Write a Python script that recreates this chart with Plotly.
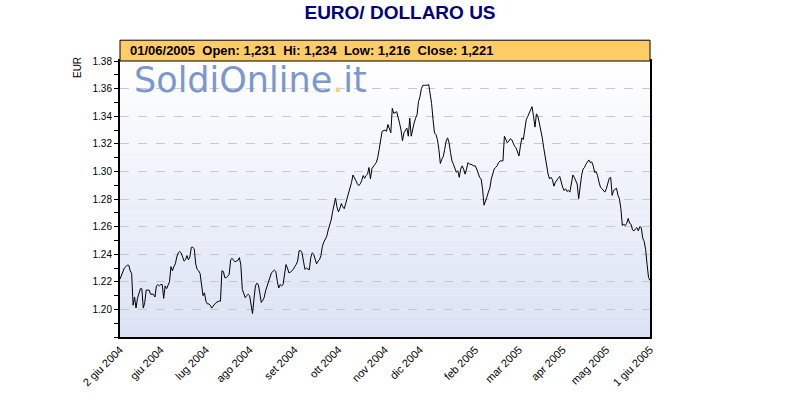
import pandas as pd
import plotly.graph_objects as go

# ---- data ----
start_date = "2004-06-02"
day_offset = [
    0, 3, 5, 6, 7, 8, 9, 10, 11, 12, 14, 15, 16, 17, 18, 19, 20, 21, 23, 24,
    25, 26, 27, 28, 29, 30, 31, 32, 33, 34, 35, 36, 37, 38, 39, 40, 41, 42, 43, 44,
    45, 46, 47, 48, 49, 50, 51, 52, 53, 54, 55, 56, 57, 58, 59, 60, 61,
    62, 63, 64, 65, 66, 68, 69, 70, 71, 72, 73, 74, 75, 76, 77, 78, 79, 80, 81, 82,
    83, 84, 85, 86, 87, 88, 89, 90, 91, 92, 93, 94, 95, 96, 97, 98, 99, 100, 101,
    102, 103, 104, 106, 107, 108, 109, 110, 111, 112, 113, 114, 115, 116, 117, 119,
    120, 121, 122, 123,
    124, 125, 126, 127, 128, 129, 130, 131, 132, 133, 134, 135, 136, 137, 138, 139,
    140, 141, 142, 143, 144, 145, 146, 147, 148, 149, 150, 151, 152, 153, 154, 155,
    157, 158, 159, 160, 161, 162, 163, 164, 165, 166, 167, 168, 169, 170, 171, 172,
    173, 174, 175, 176, 177, 178, 179,
    180, 182, 183, 184, 186, 187, 188, 190, 191, 192, 193, 194, 195, 196, 197, 198,
    199, 200, 201, 202, 203, 204, 205, 206, 207, 208, 209, 211, 212, 213, 214, 215,
    216, 217, 218, 219, 220, 221, 222, 223, 224, 225, 226, 227, 228, 229, 230, 231,
    232, 233, 234, 235, 236, 237, 238, 239, 240, 241, 243, 244, 245, 247,
    248, 249, 250, 251, 252, 253, 254, 255, 256, 257, 258, 259, 260, 261, 262, 263,
    264, 265, 266, 267, 268, 269, 270, 271, 272, 273, 274, 275, 276, 277, 278, 279,
    280, 281, 282, 283, 284, 285, 286, 287, 288, 289, 290, 291, 292, 293, 294, 295,
    296, 297, 298, 299, 300, 301, 302, 303, 304, 305, 306, 307,
    308, 309, 310, 311, 312, 313, 314, 315, 316, 317, 318, 319, 320, 321, 322, 323,
    324, 325, 326, 327, 328, 329, 330, 331, 332, 333, 334, 335, 336, 337, 338, 339,
    340, 341, 342, 343, 344, 345, 346, 347, 348, 349, 350, 351, 352, 353, 354, 355,
    356, 357, 358, 359, 360, 361, 362, 363, 364,
]
close = [
    1.222, 1.230, 1.232, 1.232, 1.228, 1.226, 1.203, 1.209, 1.201, 1.208, 1.215, 1.215, 1.201, 1.205, 1.214, 1.214, 1.214, 1.211, 1.211, 1.209,
    1.217, 1.218, 1.217, 1.218, 1.218, 1.208, 1.217, 1.215, 1.218, 1.220, 1.231, 1.228, 1.231, 1.233, 1.238, 1.241, 1.242, 1.241, 1.238, 1.235,
    1.236, 1.239, 1.236, 1.238, 1.245, 1.245, 1.244, 1.233, 1.229, 1.228, 1.226, 1.216, 1.210, 1.212, 1.206, 1.204, 1.204,
    1.203, 1.201, 1.2025, 1.204, 1.205, 1.206, 1.206, 1.228, 1.2275, 1.223, 1.223, 1.224, 1.2255, 1.236, 1.237, 1.2355, 1.2345, 1.235, 1.2355, 1.2375,
    1.232, 1.2145, 1.211, 1.2085, 1.210, 1.211, 1.210, 1.2015, 1.197, 1.2075, 1.217, 1.219, 1.218, 1.212, 1.205, 1.2065, 1.2085, 1.2135, 1.217,
    1.2195, 1.223, 1.2265, 1.2285, 1.2275, 1.2205, 1.2155, 1.218, 1.217, 1.218, 1.2265, 1.2325, 1.230, 1.2265, 1.227, 1.229,
    1.231, 1.2325, 1.235, 1.2425,
    1.2426, 1.241, 1.235, 1.229, 1.230, 1.229, 1.2286, 1.2374, 1.241, 1.240, 1.2355, 1.233, 1.235, 1.236, 1.239, 1.2457,
    1.2488, 1.2505, 1.253, 1.2576, 1.261, 1.2647, 1.2707, 1.2755, 1.2807, 1.2743, 1.2707, 1.273, 1.2767, 1.2743, 1.273, 1.2767,
    1.2838, 1.2874, 1.292, 1.2974, 1.2957, 1.2933, 1.291, 1.2897, 1.291, 1.2933, 1.297, 1.295, 1.297, 1.298, 1.3028, 1.2945,
    1.302, 1.304, 1.305, 1.3064, 1.310, 1.316, 1.324,
    1.329, 1.330, 1.329, 1.334, 1.328, 1.3457, 1.342, 1.3433, 1.340, 1.335, 1.330, 1.322, 1.328, 1.330, 1.3314, 1.3255,
    1.3386, 1.3255, 1.3314, 1.335, 1.3386, 1.341, 1.3505, 1.354, 1.360, 1.3624, 1.3624, 1.3624, 1.3631, 1.3564, 1.3493, 1.3374,
    1.3278, 1.3267, 1.323, 1.316, 1.3057, 1.3088, 1.3107, 1.316, 1.322, 1.3243, 1.3207, 1.3136, 1.3076, 1.3052, 1.302, 1.2993,
    1.3005, 1.2957, 1.3017, 1.304, 1.3017, 1.298, 1.3017, 1.3064, 1.3052, 1.3052, 1.304, 1.304, 1.3017, 1.2957,
    1.2945, 1.2874, 1.2755, 1.2779, 1.2814, 1.285, 1.2879, 1.2945, 1.2993, 1.3017, 1.3029, 1.3041, 1.3064, 1.3076, 1.3076, 1.3076,
    1.3255, 1.3231, 1.3207, 1.3219, 1.3236, 1.3231, 1.3202, 1.3183, 1.3171, 1.3136, 1.3112, 1.3183, 1.3243, 1.3231, 1.3302, 1.3374,
    1.3398, 1.3421, 1.3445, 1.3469, 1.3398, 1.3321, 1.3417, 1.3398, 1.335, 1.3302, 1.3243, 1.3171, 1.310, 1.3017, 1.2981, 1.2945,
    1.2957, 1.294, 1.2893, 1.2922, 1.2933, 1.295, 1.2964, 1.2922, 1.2886, 1.2862, 1.2874, 1.2855,
    1.2862, 1.285, 1.2921, 1.2974, 1.2957, 1.2926, 1.2909, 1.2802, 1.2897, 1.2969, 1.3017, 1.3028, 1.3052, 1.3069, 1.3083, 1.3064,
    1.3069, 1.304, 1.2993, 1.2998, 1.2969, 1.2921, 1.2886, 1.2874, 1.2862, 1.285, 1.2874, 1.2909, 1.295, 1.2957, 1.2826, 1.2862,
    1.2874, 1.2878, 1.2826, 1.2802, 1.2731, 1.2607, 1.2617, 1.2607, 1.2624, 1.2659, 1.2624, 1.2617, 1.2576, 1.2569, 1.2583, 1.2593,
    1.2569, 1.26, 1.2593, 1.2517, 1.2493, 1.2433, 1.2326, 1.2231, 1.221,
]

tick_dates = ["2004-06-02", "2004-06-30", "2004-07-31", "2004-08-30", "2004-09-30",
              "2004-10-30", "2004-12-01", "2004-12-25", "2005-02-01", "2005-03-03",
              "2005-04-02", "2005-05-02", "2005-06-01"]
tick_labels = ["2 giu 2004", "giu 2004", "lug 2004", "ago 2004", "set 2004",
               "ott 2004", "nov 2004", "dic 2004", "feb 2005", "mar 2005",
               "apr 2005", "mag 2005", "1 giu 2005"]
y_ticks = [1.20, 1.22, 1.24, 1.26, 1.28, 1.30, 1.32, 1.34, 1.36, 1.38]

title_text = "EURO/ DOLLARO US"
header_text = "01/06/2005\u00a0\u00a0Open: 1,231\u00a0\u00a0Hi: 1,234\u00a0\u00a0Low: 1,216\u00a0\u00a0Close: 1,221"

dates = pd.Timestamp(start_date) + pd.to_timedelta(day_offset, unit="D")

FONT = "Arial, Liberation Sans, sans-serif"

fig = go.Figure()
fig.add_trace(go.Scatter(x=dates, y=close, mode="lines",
                         line=dict(color="#000000", width=1), hoverinfo="x+y",
                         showlegend=False))

# gradient background (white at top -> pale blue at bottom)
shapes = []
n = 40
top = (255, 255, 255)
bot = (219, 226, 244)
for i in range(n):
    t = (i + 0.5) / n  # 0 top .. 1 bottom
    c = tuple(int(round(top[k] + (bot[k] - top[k]) * t)) for k in range(3))
    shapes.append(dict(type="rect", xref="x domain", yref="y domain",
                       x0=0, x1=1, y0=1 - (i + 1) / n, y1=1 - i / n,
                       fillcolor="rgb(%d,%d,%d)" % c, line=dict(width=0),
                       layer="below"))
# header box
shapes.append(dict(type="rect", xref="paper", yref="paper", x0=0, x1=1,
                   y0=1.0, y1=1.0753, fillcolor="#FFCC66",
                   line=dict(color="#000000", width=1)))
fig.update_layout(shapes=shapes)

fig.update_layout(
    width=800, height=400,
    margin=dict(l=120, r=150, t=61, b=60),
    paper_bgcolor="#ffffff", plot_bgcolor="#ffffff",
    font=dict(family=FONT, size=10, color="#000000"),
    title=dict(text="<b>%s</b>" % title_text, x=0.5, xref="container",
               y=1 - 12 / 400, yref="container", yanchor="middle",
               font=dict(family=FONT, size=19, color="#000080")),
    xaxis=dict(type="date", range=[dates[0], dates[-1]],
               tickmode="array", tickvals=tick_dates, ticktext=tick_labels,
               tickangle=-45, ticks="", showgrid=False, zeroline=False,
               showline=True, linecolor="#000000", linewidth=2, mirror=True,
               tickfont=dict(family=FONT, size=11, color="#000000")),
    yaxis=dict(range=[1.18, 1.38], tickmode="array", tickvals=y_ticks,
               tickformat=".2f", ticks="outside", ticklen=4, tickcolor="#000000",
               showgrid=True, gridcolor="#c8c8c8", griddash="dash", gridwidth=1,
               zeroline=False, showline=True, linecolor="#000000", linewidth=2,
               mirror=True,
               minor=dict(dtick=0.01, tick0=1.18, ticks="outside", ticklen=4,
                          tickcolor="#000000", showgrid=False),
               tickfont=dict(family=FONT, size=10, color="#000000")),
)

fig.add_annotation(text="<b>%s</b>" % header_text, xref="paper", yref="paper",
                   x=0.015, y=1.037, xanchor="left", yanchor="middle",
                   showarrow=False, font=dict(family=FONT, size=13, color="#000000"))
fig.add_annotation(text="EUR", xref="paper", yref="paper", x=-0.079, y=0.975,
                   textangle=-90, xanchor="center", yanchor="middle",
                   showarrow=False, font=dict(family=FONT, size=10, color="#000000"))
fig.add_annotation(text="SoldiOnline<span style='color:#f6cf7c'>.</span>it",
                   xref="paper", yref="paper", x=0.022, y=0.93,
                   xanchor="left", yanchor="middle", showarrow=False,
                   font=dict(family="DejaVu Sans", size=35, color="#7b97cf"))

fig.write_html("out.html", config={"displayModeBar": False},
               post_script="document.body.style.margin='0px';")
